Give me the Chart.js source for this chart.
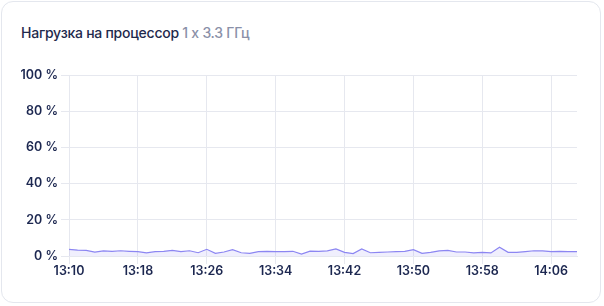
<!DOCTYPE html>
<html>
<head>
<meta charset="utf-8">
<script src="https://cdn.jsdelivr.net/npm/chart.js@4.4.1/dist/chart.umd.min.js"></script>
<style>
  html, body { margin: 0; padding: 0; background: #ffffff; }
  body { width: 604px; height: 306px; position: relative; overflow: hidden; font-family: Inter, "Noto Sans", sans-serif; }
  .card { position: absolute; left: 1px; top: 1px; width: 600px; height: 302px; border: 1px solid #e4e7ee; border-radius: 12px; box-sizing: border-box; background: #fff; }
  .title { position: absolute; left: 21px; top: 24px; font-size: 14px; font-weight: 500; color: #1f2a4d; white-space: nowrap; letter-spacing: -0.25px; }
  .title span { color: #8a90a8; }
  .wrap { position: absolute; left: 0; top: 60px; width: 604px; height: 246px; }
</style>
</head>
<body>
<div class="card"></div>
<div class="title">Нагрузка на процессор <span>1 x 3.3 ГГц</span></div>
<div class="wrap"><canvas id="c" width="604" height="246"></canvas></div>
<script>
const times = ["13:10","13:11","13:12","13:13","13:14","13:15","13:16","13:17","13:18","13:19",
  "13:20","13:21","13:22","13:23","13:24","13:25","13:26","13:27","13:28","13:29",
  "13:30","13:31","13:32","13:33","13:34","13:35","13:36","13:37","13:38","13:39",
  "13:40","13:41","13:42","13:43","13:44","13:45","13:46","13:47","13:48","13:49",
  "13:50","13:51","13:52","13:53","13:54","13:55","13:56","13:57","13:58","13:59",
  "14:00","14:01","14:02","14:03","14:04","14:05","14:06","14:07","14:08","14:09"];
const cpuLoad = [3.7,3.3,3.1,2.2,2.8,2.6,2.9,2.6,2.4,1.7,
  2.4,2.6,3.1,2.4,2.9,1.8,3.7,1.5,2.2,3.5,
  1.8,1.5,2.4,2.6,2.4,2.4,2.6,1.1,2.7,2.6,
  2.8,3.9,2.0,1.3,3.9,1.8,2.0,2.2,2.4,2.6,
  3.5,1.5,2.0,2.8,3.1,2.2,2.2,1.7,2.0,1.7,
  4.8,2.0,2.0,2.4,2.9,2.8,2.4,2.6,2.4,2.4];
const yTicks = [0, 20, 40, 60, 80, 100];
const tickEvery = 8;

const textColor = '#1c2750';
const gridColor = '#e6e8ef';

new Chart(document.getElementById('c'), {
  type: 'line',
  data: {
    labels: times,
    datasets: [{
      data: cpuLoad,
      borderColor: '#8c86f2',
      backgroundColor: 'rgba(130,120,240,0.12)',
      borderWidth: 1.2,
      pointRadius: 0,
      tension: 0,
      fill: 'origin'
    }]
  },
  options: {
    responsive: false,
    animation: false,
    devicePixelRatio: 1,
    layout: { padding: { left: 0, right: 27, top: 15, bottom: 20 } },
    plugins: { legend: { display: false }, tooltip: { enabled: false } },
    scales: {
      x: {
        type: 'category',
        offset: false,
        grid: {
          color: (ctx) => (ctx.index % tickEvery === 0 ? gridColor : 'rgba(0,0,0,0)'),
          tickLength: 8,
          lineWidth: 1
        },
        border: { display: true, color: gridColor },
        ticks: {
          autoSkip: false,
          maxRotation: 0,
          minRotation: 0,
          padding: 0,
          color: textColor,
          font: { family: 'Inter', size: 12.5, weight: '600' },
          callback: function(v, i) { return i % tickEvery === 0 ? times[i] : ''; }
        },
        afterFit: (s) => { s.height = 30; }
      },
      y: {
        min: 0,
        max: 100,
        afterBuildTicks: (s) => { s.ticks = yTicks.map(v => ({ value: v })); },
        grid: { color: gridColor, tickLength: 8, lineWidth: 1 },
        border: { display: true, color: gridColor },
        ticks: {
          padding: 3,
          color: textColor,
          font: { family: 'Inter', size: 12.5, weight: '600' },
          callback: (v) => v + ' %'
        },
        afterFit: (s) => { s.width = 69; }
      }
    }
  }
});
</script>
</body>
</html>
